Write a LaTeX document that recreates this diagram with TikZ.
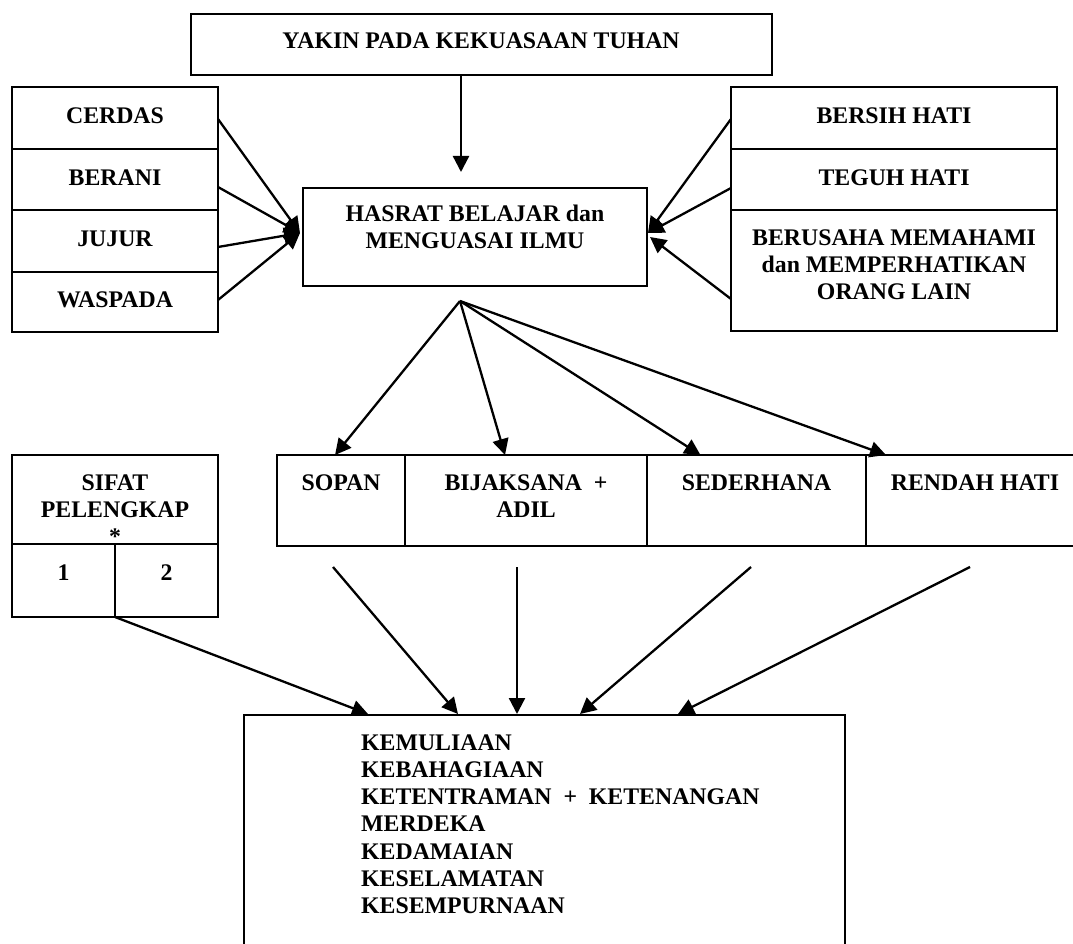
\documentclass[tikz,border=0pt]{standalone}
\usepackage{fontspec}
\setmainfont{Liberation Serif}
\usetikzlibrary{arrows.meta}
\begin{document}
\begin{tikzpicture}[x=1pt,y=-1pt,
  box/.style={draw, line width=2.2pt, inner sep=0, outer sep=0, anchor=north west},
  lbl/.style={font=\fontsize{23.8}{27.2}\selectfont\bfseries, inner sep=0, align=center, anchor=north},
  arr/.style={line width=2.3pt, -{Triangle[length=16pt,width=16pt]}}]
\useasboundingbox (0,0) rectangle (1073,944);
\clip (0,0) rectangle (1073,944);
% boxes
\node[box, minimum width=581, minimum height=61] (top) at (191,14) {};
\node[box, minimum width=206, minimum height=62] (cerdas) at (12,87) {};
\node[box, minimum width=206, minimum height=61] (berani) at (12,149) {};
\node[box, minimum width=206, minimum height=62] (jujur) at (12,210) {};
\node[box, minimum width=206, minimum height=60] (waspada) at (12,272) {};
\node[box, minimum width=344, minimum height=98] (hasrat) at (303,188) {};
\node[box, minimum width=326, minimum height=62] (bersih) at (731,87) {};
\node[box, minimum width=326, minimum height=61] (teguh) at (731,149) {};
\node[box, minimum width=326, minimum height=121] (berusaha) at (731,210) {};
\node[box, minimum width=206, minimum height=89] (sifat) at (12,455) {};
\node[box, minimum width=103, minimum height=73] (one) at (12,544) {};
\node[box, minimum width=103, minimum height=73] (two) at (115,544) {};
\node[box, minimum width=128, minimum height=91] (sopan) at (277,455) {};
\node[box, minimum width=242, minimum height=91] (bijak) at (405,455) {};
\node[box, minimum width=219, minimum height=91] (seder) at (647,455) {};
\node[box, minimum width=220, minimum height=91] (rendah) at (866,455) {};
\node[box, minimum width=601, minimum height=250] (hasil) at (244,715) {};
% texts
\node[lbl] (tYakin) at (481,29) {\strut YAKIN PADA KEKUASAAN TUHAN};
\node[lbl] (tCerdas) at (115,104) {\strut CERDAS};
\node[lbl] (tBerani) at (115,166) {\strut BERANI};
\node[lbl] (tJujur) at (115,227) {\strut JUJUR};
\node[lbl] (tWaspada) at (115,288) {\strut WASPADA};
\node[lbl] (tHasrat) at (475,202) {\strut HASRAT BELAJAR dan\\\strut MENGUASAI ILMU};
\node[lbl] (tBersih) at (894,104) {\strut BERSIH HATI};
\node[lbl] (tTeguh) at (894,166) {\strut TEGUH HATI};
\node[lbl] (tBerusaha) at (894,226) {\strut BERUSAHA MEMAHAMI\\\strut dan MEMPERHATIKAN\\\strut ORANG LAIN};
\node[lbl] (tSifat) at (115,471) {\strut SIFAT\\\strut PELENGKAP\\\strut *};
\node[lbl] (tOne) at (63.5,561) {\strut 1};
\node[lbl] (tTwo) at (166.5,561) {\strut 2};
\node[lbl] (tSopan) at (341,471) {\strut SOPAN};
\node[lbl] (tBijak) at (526,471) {\strut BIJAKSANA\ \ +\\\strut ADIL};
\node[lbl] (tSeder) at (756.5,471) {\strut SEDERHANA};
\node[lbl] (tRendah) at (975,471) {\strut RENDAH HATI};
\node[lbl, anchor=north west, align=left] (tHasil) at (361,731) {\strut KEMULIAAN\\\strut KEBAHAGIAAN\\\strut KETENTRAMAN\ \ +\ \ KETENANGAN\\\strut MERDEKA\\\strut KEDAMAIAN\\\strut KESELAMATAN\\\strut KESEMPURNAAN};
% connectors
\coordinate (dTip) at (461,172);
\draw[arr] (dTip |- top.south) -- (dTip);
\coordinate (lTip) at (300,233);
\draw[arr] ([yshift=-1pt]cerdas.east) -- (lTip);
\draw[arr] ([yshift=-7.5pt]berani.east) -- (lTip);
\draw[arr] ([yshift=-6pt]jujur.east) -- (lTip);
\draw[arr] ([yshift=2pt]waspada.east) -- (lTip);
\coordinate (rTip) at (648,233);
\coordinate (rTipB) at (650,237);
\draw[arr] ([yshift=-1pt]bersih.west) -- (rTip);
\draw[arr] ([yshift=-8.5pt]teguh.west) -- (rTip);
\draw[arr] ([yshift=-28.5pt]berusaha.west) -- (rTipB);
\coordinate (fan) at (460,301);
\draw[arr] (fan) -- ([xshift=-6pt]sopan.north);
\draw[arr] (fan) -- ([xshift=-21pt]bijak.north);
\draw[arr] (fan) -- ([xshift=-56pt]seder.north);
\draw[arr] (fan) -- ([xshift=-90pt]rendah.north);
\coordinate (b1) at (333,567);
\coordinate (b2) at (517,567);
\coordinate (b3) at (751,567);
\coordinate (b4) at (970,567);
\coordinate (h0) at (368,714);
\coordinate (h1) at (458,714);
\coordinate (h2) at (517,714);
\coordinate (h3) at (580,714);
\coordinate (h4) at (678,714);
\draw[arr] (one.south east) -- (h0);
\draw[arr] (b1) -- (h1);
\draw[arr] (b2) -- (h2);
\draw[arr] (b3) -- (h3);
\draw[arr] (b4) -- (h4);
\end{tikzpicture}
\end{document}
